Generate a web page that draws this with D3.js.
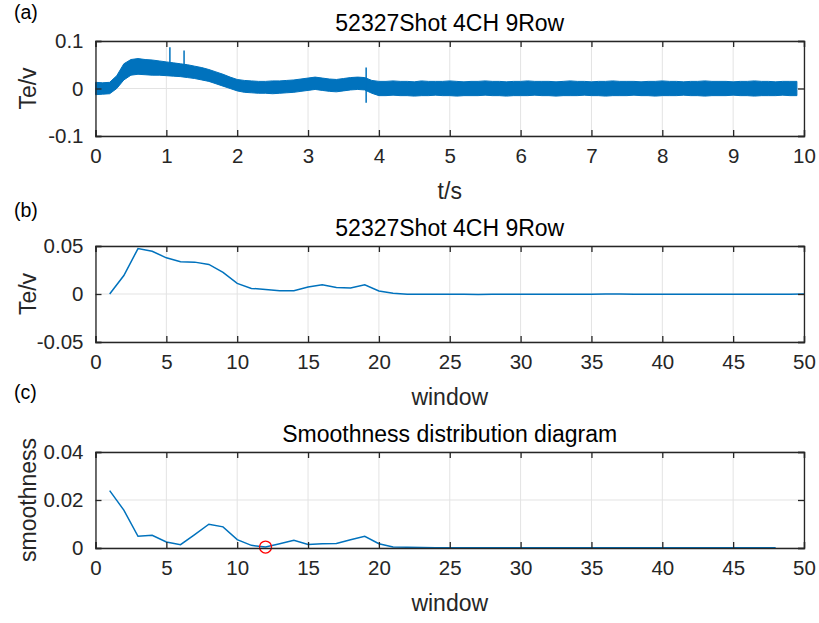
<!DOCTYPE html>
<html>
<head>
<meta charset="utf-8">
<script src="https://cdn.jsdelivr.net/npm/d3@7"></script>
<style>
  body { margin: 0; background: #fff; }
  text { font-family: "Liberation Sans", Arial, Helvetica, sans-serif; }
</style>
</head>
<body>
<script>
// panel (a): envelope of the noisy signal, every 0.1 s
const sigTime = d3.range(0, 100).map(i => i / 10);
const sigUpper = [
  0.013, 0.012, 0.013, 0.027, 0.052, 0.061, 0.063, 0.061, 0.060, 0.058,
  0.056, 0.054, 0.052, 0.050, 0.047, 0.044, 0.040, 0.035, 0.030, 0.024,
  0.019, 0.017, 0.016, 0.015, 0.015, 0.016, 0.016, 0.017, 0.018, 0.020,
  0.022, 0.024, 0.022, 0.020, 0.019, 0.021, 0.023, 0.024, 0.023, 0.017,
  0.015, 0.015, 0.016, 0.015, 0.015, 0.014, 0.016, 0.015, 0.015, 0.015,
  0.016, 0.015, 0.014, 0.015, 0.015, 0.016, 0.015, 0.015, 0.014, 0.015,
  0.015, 0.016, 0.015, 0.015, 0.015, 0.014, 0.015, 0.016, 0.015, 0.015,
  0.014, 0.015, 0.015, 0.016, 0.015, 0.015, 0.015, 0.014, 0.015, 0.015,
  0.016, 0.015, 0.015, 0.014, 0.015, 0.015, 0.016, 0.015, 0.015, 0.015,
  0.014, 0.015, 0.015, 0.016, 0.015, 0.015, 0.014, 0.015, 0.015, 0.015
];
const sigLower = [
  -0.013, -0.012, -0.011, 0.000, 0.018, 0.028, 0.030, 0.029, 0.028, 0.028,
  0.027, 0.026, 0.025, 0.023, 0.021, 0.018, 0.015, 0.010, 0.005, 0.000,
  -0.005, -0.008, -0.009, -0.010, -0.010, -0.011, -0.010, -0.009, -0.008, -0.006,
  -0.004, -0.002, -0.004, -0.006, -0.007, -0.005, -0.003, -0.002, -0.003, -0.010,
  -0.015, -0.015, -0.014, -0.015, -0.015, -0.016, -0.015, -0.015, -0.014, -0.015,
  -0.015, -0.016, -0.015, -0.015, -0.015, -0.014, -0.015, -0.015, -0.016, -0.015,
  -0.015, -0.015, -0.014, -0.015, -0.015, -0.016, -0.015, -0.015, -0.015, -0.014,
  -0.015, -0.015, -0.016, -0.015, -0.015, -0.015, -0.014, -0.015, -0.015, -0.016,
  -0.015, -0.015, -0.015, -0.014, -0.015, -0.015, -0.016, -0.015, -0.015, -0.015,
  -0.014, -0.015, -0.015, -0.016, -0.015, -0.015, -0.015, -0.014, -0.015, -0.015
];
const spikeTime = [1.05, 1.25, 3.82];
const spikeHigh = [0.087, 0.080, 0.044];
const spikeLow = [0.030, 0.025, -0.030];

// panel (b): mean per window
const winB = d3.range(1, 51);
const teB = [
  0.0000, 0.0192, 0.0473, 0.0445, 0.0377, 0.0336, 0.0332, 0.0308, 0.0226, 0.0110,
  0.0058, 0.0048, 0.0034, 0.0034, 0.0072, 0.0096, 0.0068, 0.0062, 0.0096, 0.0031,
  0.0007, -0.0003, -0.0002, -0.0002, -0.0002, -0.0003, -0.0004, -0.0002, -0.0002, -0.0002,
  -0.0002, -0.0002, -0.0002, -0.0003, -0.0002, -0.0001, -0.0001, -0.0002, -0.0002, -0.0002,
  -0.0002, -0.0002, -0.0002, -0.0002, -0.0003, -0.0002, -0.0002, -0.0002, -0.0002, -0.0001
];

// panel (c): smoothness per window
const winC = d3.range(1, 49);
const smooth = [
  0.0239, 0.0158, 0.0049, 0.0053, 0.0025, 0.0014, 0.0056, 0.0099, 0.0088, 0.0035,
  0.0011, 0.0004, 0.0018, 0.0032, 0.0015, 0.0018, 0.0019, 0.0034, 0.0049, 0.0018,
  0.0004, 0.0003, 0.0002, 0.0001, 0.0001, 0.0001, 0.0001, 0.0001, 0.0001, 0.0001,
  0.0001, 0.0001, 0.0001, 0.0001, 0.0001, 0.0001, 0.0001, 0.0001, 0.0001, 0.0001,
  0.0001, 0.0001, 0.0001, 0.0001, 0.0001, 0.0001, 0.0001, 0.0001
];
const markWin = 12;

const ticksA = [0, 1, 2, 3, 4, 5, 6, 7, 8, 9, 10];
const ticksW = [0, 5, 10, 15, 20, 25, 30, 35, 40, 45, 50];

const w = 819, h = 623,
      left = 95.5, right = 804,
      blue = "#0072bd", ink = "#262626", grid = "#e3e3e3";

const svg = d3.select("body").append("svg")
              .attr("width", w)
              .attr("height", h);

// matlab style labels: plain hyphen, no trailing zero for 0
const fmt = p => d => d === 0 ? "0" : d3.format("." + p + "f")(d).replace("\u2212", "-");

function panel(o) {
  const x = d3.scaleLinear().domain(o.xd).range([left, right]);
  const y = d3.scaleLinear().domain(o.yd).range([o.bottom, o.top]);
  const g = svg.append("g");

  // grid
  g.selectAll(".gx").data(o.xt).enter().append("line")
    .attr("x1", d => x(d)).attr("x2", d => x(d))
    .attr("y1", o.top).attr("y2", o.bottom)
    .attr("stroke", grid).attr("stroke-width", 1);
  g.selectAll(".gy").data(o.yt).enter().append("line")
    .attr("x1", left).attr("x2", right)
    .attr("y1", d => y(d)).attr("y2", d => y(d))
    .attr("stroke", grid).attr("stroke-width", 1);

  const data = g.append("g");

  const axes = [
    d3.axisBottom(x).tickValues(o.xt).tickSize(-6).tickPadding(12).tickFormat(d3.format("d")),
    d3.axisTop(x).tickValues(o.xt).tickSize(-6).tickFormat(""),
    d3.axisLeft(y).tickValues(o.yt).tickSize(-6).tickPadding(12).tickFormat(o.yf),
    d3.axisRight(y).tickValues(o.yt).tickSize(-6).tickFormat("")
  ];
  const tr = [
    "translate(0," + o.bottom + ")", "translate(0," + o.top + ")",
    "translate(" + left + ",0)", "translate(" + right + ",0)"
  ];
  axes.forEach((a, i) => {
    const ag = g.append("g").attr("transform", tr[i]).call(a);
    ag.select(".domain").attr("stroke", ink).attr("stroke-width", 1.3);
    ag.selectAll(".tick line").attr("stroke", ink).attr("stroke-width", 1.3);
    ag.selectAll(".tick text").attr("fill", ink).attr("font-size", 20.5)
      .attr("font-family", "Liberation Sans, Arial, sans-serif");
  });

  g.append("text").text(o.title)
    .attr("x", (left + right) / 2).attr("y", o.top - 10)
    .attr("text-anchor", "middle").attr("font-size", 23).attr("fill", "#000");
  g.append("text").text(o.xlabel)
    .attr("x", (left + right) / 2).attr("y", o.bottom + 63)
    .attr("text-anchor", "middle").attr("font-size", 23).attr("fill", ink);
  g.append("text").text(o.ylabel)
    .attr("transform", "translate(" + 36 + "," + (o.top + o.bottom) / 2 + ")rotate(-90)")
    .attr("text-anchor", "middle").attr("font-size", 23).attr("fill", ink);
  g.append("text").text(o.tag)
    .attr("x", 14).attr("y", o.tagY)
    .attr("font-size", 19.5).attr("fill", "#000");

  return {x: x, y: y, g: data};
}

// (a)
const pa = panel({
  xd: [0, 10], yd: [-0.1, 0.1], top: 41, bottom: 136,
  xt: ticksA, yt: [-0.1, 0, 0.1], yf: fmt(1),
  title: "52327Shot 4CH 9Row", xlabel: "t/s", ylabel: "Te/v", tag: "(a)", tagY: 19
});
const band = sigTime.map((t, i) => ({t: t, hi: sigUpper[i], lo: sigLower[i]}));
pa.g.append("path").datum(band)
  .attr("d", d3.area().x(d => pa.x(d.t)).y0(d => pa.y(d.lo)).y1(d => pa.y(d.hi)))
  .attr("fill", blue).attr("stroke", blue).attr("stroke-width", 1);
pa.g.selectAll(".spike").data(spikeTime).enter().append("line")
  .attr("x1", d => pa.x(d)).attr("x2", d => pa.x(d))
  .attr("y1", (d, i) => pa.y(spikeHigh[i])).attr("y2", (d, i) => pa.y(spikeLow[i]))
  .attr("stroke", blue).attr("stroke-width", 1.5);

// (b)
const pb = panel({
  xd: [0, 50], yd: [-0.05, 0.05], top: 246, bottom: 342,
  xt: ticksW, yt: [-0.05, 0, 0.05], yf: fmt(2),
  title: "52327Shot 4CH 9Row", xlabel: "window", ylabel: "Te/v", tag: "(b)", tagY: 217
});
pb.g.append("path").datum(winB)
  .attr("d", d3.line().x(d => pb.x(d)).y((d, i) => pb.y(teB[i])))
  .attr("fill", "none").attr("stroke", blue).attr("stroke-width", 1.5);

// (c)
const pc = panel({
  xd: [0, 50], yd: [0, 0.04], top: 452, bottom: 548,
  xt: ticksW, yt: [0, 0.02, 0.04], yf: fmt(2),
  title: "Smoothness distribution diagram", xlabel: "window", ylabel: "smoothness", tag: "(c)", tagY: 399
});
pc.g.append("path").datum(winC)
  .attr("d", d3.line().x(d => pc.x(d)).y((d, i) => pc.y(smooth[i])))
  .attr("fill", "none").attr("stroke", blue).attr("stroke-width", 1.5);
pc.g.append("circle")
  .attr("cx", pc.x(markWin)).attr("cy", pc.y(smooth[markWin - 1]))
  .attr("r", 6).attr("fill", "none").attr("stroke", "#ff0000").attr("stroke-width", 1.3);
</script>
</body>
</html>
